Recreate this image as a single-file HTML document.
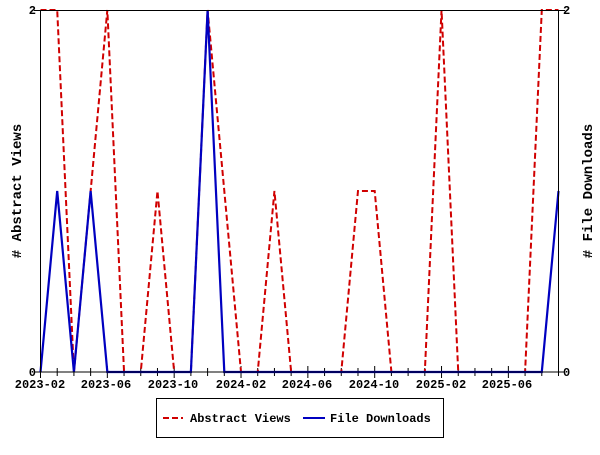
<!DOCTYPE html>
<html><head><style>body{margin:0;background:#fff}</style></head><body>
<svg width="600" height="450" xmlns="http://www.w3.org/2000/svg" font-family="Liberation Mono, DejaVu Sans Mono, monospace" font-size="12" font-weight="bold">
<rect width="600" height="450" fill="#fff"/>
<g id="ticks" stroke="#000" stroke-width="1"></g>
<polyline id="av" fill="none" stroke="#d00000" stroke-width="2" stroke-dasharray="6,3"/>
<polyline id="fd" fill="none" stroke="#0000c0" stroke-width="2.2"/>
<rect x="40.5" y="10.5" width="518" height="361.5" fill="none" stroke="#000"/>
<text x="36" y="14" text-anchor="end">2</text>
<text x="36" y="376" text-anchor="end">0</text>
<text x="563" y="14">2</text>
<text x="563" y="376">0</text>
<g text-anchor="middle">
<text x="40" y="388">2023-02</text><text x="106" y="388">2023-06</text><text x="173" y="388">2023-10</text><text x="241" y="388">2024-02</text><text x="307" y="388">2024-06</text><text x="374" y="388">2024-10</text><text x="441" y="388">2025-02</text><text x="507" y="388">2025-06</text>
</g>
<text transform="translate(21,191) rotate(-90)" text-anchor="middle" font-size="14"># Abstract Views</text>
<text transform="translate(592,191) rotate(-90)" text-anchor="middle" font-size="14"># File Downloads</text>
<rect x="156.5" y="398.5" width="287" height="39" fill="#fff" stroke="#000"/>
<line x1="163" y1="418" x2="183" y2="418" stroke="#d00000" stroke-width="2" stroke-dasharray="6,3"/>
<text x="190" y="422">Abstract Views</text>
<line x1="303" y1="418" x2="325" y2="418" stroke="#0000c0" stroke-width="2"/>
<text x="330" y="422">File Downloads</text>
</svg>
<script>
const av=[2,2,0,1,2,0,0,1,0,0,2,1,0,0,1,0,0,0,0,1,1,0,0,0,2,0,0,0,0,0,2,2];
const fd=[0,1,0,1,0,0,0,0,0,0,2,0,0,0,0,0,0,0,0,0,0,0,0,0,0,0,0,0,0,0,0,1];
const X=i=>40.5+i*518/31, Y=v=>372-v*181;
document.getElementById('av').setAttribute('points',av.map((v,i)=>X(i)+','+Y(v)).join(' '));
document.getElementById('fd').setAttribute('points',fd.map((v,i)=>X(i)+','+Y(v)).join(' '));
let g=document.getElementById('ticks'),s='';
for(let i=0;i<32;i++){const l=i%4==0?6:4;s+=`<line x1="${X(i)}" y1="${372-l}" x2="${X(i)}" y2="${372+l}"/>`;}
s+='<line x1="34" y1="10.5" x2="40" y2="10.5"/><line x1="34" y1="372" x2="40" y2="372"/><line x1="559" y1="10.5" x2="565" y2="10.5"/><line x1="559" y1="372" x2="565" y2="372"/>';
g.innerHTML=s;
</script>
</body></html>
